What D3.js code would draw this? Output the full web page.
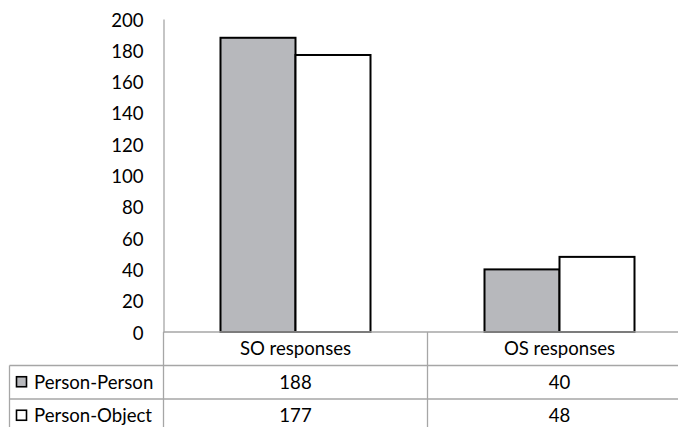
<!DOCTYPE html>
<html>
<head>
<meta charset="utf-8">
<script src="https://cdn.jsdelivr.net/npm/d3@7/dist/d3.min.js"></script>
<style>
  html, body { margin: 0; padding: 0; background: #fff; }
  svg text { font-family: Lato, "Open Sans", sans-serif; fill: #000; }
</style>
</head>
<body>
<svg id="chart" width="678" height="427"></svg>
<script>
// Response counts by condition
const categories = ["SO responses", "OS responses"];
const seriesNames = ["Person-Person", "Person-Object"];
const personPerson = [188, 40];
const personObject = [177, 48];
const yTicks = [0, 20, 40, 60, 80, 100, 120, 140, 160, 180, 200];

const seriesValues = [personPerson, personObject];
const seriesFill = ["#b7b8bc", "#ffffff"];
const gridColor = "#a6a6a6";
const fontSize = 18.6;

const svg = d3.select("#chart");

const axisX = 163.5;
const baseY = 332;
const rowH = 33.5;
const tableLeft = 9.5;

const x0 = d3.scaleBand().domain(categories).range([axisX, axisX + 528]).padding(0);
const x1 = d3.scaleBand().domain(seriesNames).range([0, x0.bandwidth()])
  .paddingInner(0).paddingOuter(0.76);
const y = d3.scaleLinear().domain([0, 200]).range([baseY, 19]);

// Y axis
const yAxis = d3.axisLeft(y).tickValues(yTicks).tickSize(0).tickPadding(20);
const gy = svg.append("g").attr("transform", `translate(${axisX},0)`).call(yAxis);
gy.select(".domain").attr("stroke", gridColor).attr("stroke-width", 1.3);
gy.selectAll(".tick text")
  .attr("font-size", fontSize)
  .attr("dy", "0.38em")
  .style("font-family", "Lato, 'Open Sans', sans-serif");

// Bars
const groups = svg.append("g").selectAll("g")
  .data(categories)
  .join("g")
  .attr("transform", d => `translate(${x0(d)},0)`);

groups.selectAll("rect")
  .data((c, ci) => seriesNames.map((s, si) => ({ s, si, v: seriesValues[si][ci] })))
  .join("rect")
  .attr("x", d => x1(d.s))
  .attr("y", d => y(d.v))
  .attr("width", x1.bandwidth())
  .attr("height", d => y(0) - y(d.v))
  .attr("fill", d => seriesFill[d.si])
  .attr("stroke", "#000")
  .attr("stroke-width", 2);

// Data table below the plot
const table = svg.append("g");
const lineAttrs = sel => sel.attr("stroke", gridColor).attr("stroke-width", 1.3);

// horizontal rules
table.append("line").attr("x1", axisX).attr("x2", 678).attr("y1", baseY).attr("y2", baseY).call(lineAttrs);
for (let r = 1; r <= seriesNames.length; r++) {
  table.append("line").attr("x1", tableLeft).attr("x2", 678)
    .attr("y1", baseY + rowH * r).attr("y2", baseY + rowH * r).call(lineAttrs);
}
// vertical rules
table.append("line").attr("x1", tableLeft).attr("x2", tableLeft)
  .attr("y1", baseY + rowH).attr("y2", 427).call(lineAttrs);
categories.forEach(c => {
  table.append("line").attr("x1", x0(c)).attr("x2", x0(c))
    .attr("y1", baseY).attr("y2", 427).call(lineAttrs);
});

// header row
table.selectAll("text.head")
  .data(categories)
  .join("text")
  .attr("class", "head")
  .attr("x", d => x0(d) + x0.bandwidth() / 2)
  .attr("y", baseY + rowH / 2)
  .attr("dy", "0.36em")
  .attr("text-anchor", "middle")
  .attr("font-size", fontSize)
  .text(d => d);

// value rows with legend keys
seriesNames.forEach((s, si) => {
  const rowY = baseY + rowH * (si + 1);
  table.append("rect")
    .attr("x", 16.5).attr("y", rowY + rowH / 2 - 5.5)
    .attr("width", 10).attr("height", 10)
    .attr("fill", seriesFill[si]).attr("stroke", "#000").attr("stroke-width", 1.6);
  table.append("text")
    .attr("x", 34).attr("y", rowY + rowH / 2).attr("dy", "0.36em")
    .attr("font-size", fontSize).text(s);
  categories.forEach((c, ci) => {
    table.append("text")
      .attr("x", x0(c) + x0.bandwidth() / 2)
      .attr("y", rowY + rowH / 2).attr("dy", "0.36em")
      .attr("text-anchor", "middle")
      .attr("font-size", fontSize)
      .text(seriesValues[si][ci]);
  });
});
</script>
</body>
</html>
